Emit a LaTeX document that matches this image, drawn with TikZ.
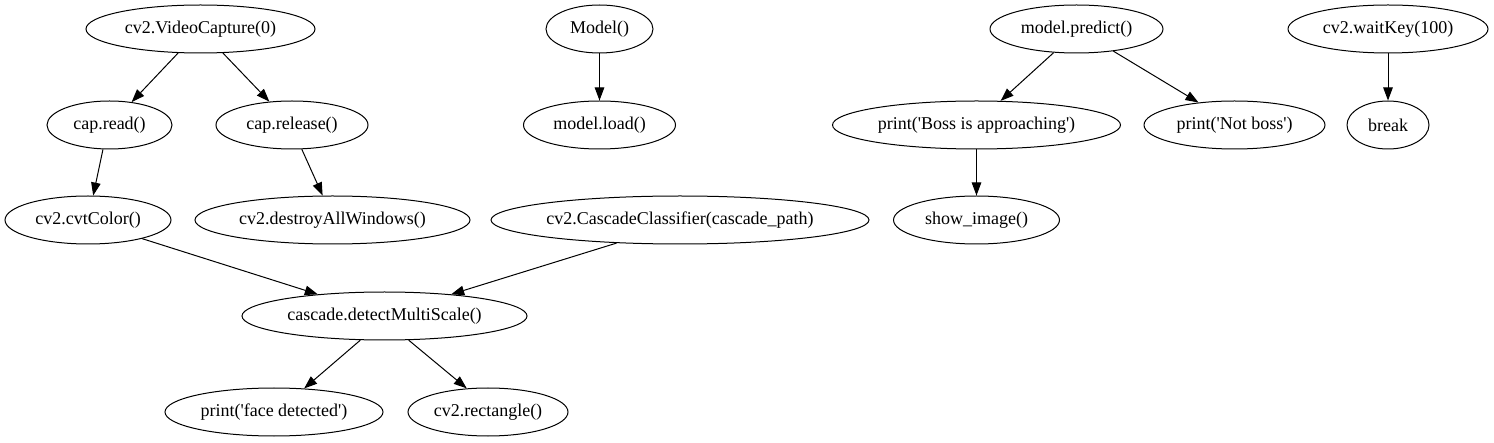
\documentclass[tikz,border=0pt]{standalone}
\usepackage{fontspec}
\setmainfont{Liberation Serif}
\usetikzlibrary{shapes.geometric,arrows.meta}
\newcommand{\sq}{\textquotesingle}
\newcommand{\lbl}[1]{\makebox[0pt]{#1}}
\begin{document}
\begin{tikzpicture}[x=1pt,y=-1pt,
  nd/.style={draw,ellipse,line width=1pt,inner sep=0pt,minimum height=48pt,font=\fontsize{18}{20}\selectfont},
  ar/.style={line width=1pt,-{Triangle[length=13pt,width=9.5pt]}}]
\useasboundingbox (0,0) rectangle (1494,443);
\node[nd,minimum width=229pt] (vc) at (200.5,29) {\lbl{cv2.VideoCapture(0)}};
\node[nd,minimum width=107pt] (model) at (599.5,29) {\lbl{Model()}};
\node[nd,minimum width=173pt] (pred) at (1076.5,29) {\lbl{model.predict()}};
\node[nd,minimum width=200pt] (wait) at (1388,29) {\lbl{cv2.waitKey(100)}};
\node[nd,minimum width=125pt] (read) at (109.5,125) {\lbl{cap.read()}};
\node[nd,minimum width=152pt] (rel) at (292,125) {\lbl{cap.release()}};
\node[nd,minimum width=152pt] (load) at (599.5,125) {\lbl{model.load()}};
\node[nd,minimum width=288pt] (boss) at (976.5,125) {\lbl{print(\sq Boss is approaching\sq)}};
\node[nd,minimum width=181pt] (notb) at (1234.5,125) {\lbl{print(\sq Not boss\sq)}};
\node[nd,minimum width=82pt] (brk) at (1388,125) {\lbl{break}};
\node[nd,minimum width=166pt] (cvt) at (88,220) {\lbl{cv2.cvtColor()}};
\node[nd,minimum width=275pt] (dest) at (332.5,220) {\lbl{cv2.destroyAllWindows()}};
\node[nd,minimum width=378pt] (casc) at (680,220) {\lbl{cv2.CascadeClassifier(cascade\_path)}};
\node[nd,minimum width=166pt] (show) at (976.5,220) {\lbl{show\_image()}};
\node[nd,minimum width=285pt] (dms) at (384.5,316) {\lbl{cascade.detectMultiScale()}};
\node[nd,minimum width=218pt] (face) at (274,412) {\lbl{print(\sq face detected\sq)}};
\node[nd,minimum width=160pt] (rect) at (488,412) {\lbl{cv2.rectangle()}};
\draw[ar] (vc.-133) -- (read.46);
\draw[ar] (vc.-47) -- (rel.134);
\draw[ar] (read.-105) -- (cvt.78);
\draw[ar] (rel.-68) -- (dest.112);
\draw[ar] (cvt.-19) -- (dms.162);
\draw[ar] (casc.-160) -- (dms.18);
\draw[ar] (dms.-135) -- (face.38);
\draw[ar] (dms.-45) -- (rect.132);
\draw[ar] (model.-90) -- (load.90);
\draw[ar] (pred.-134) -- (boss.45);
\draw[ar] (pred.-31) -- (notb.148);
\draw[ar] (boss.-90) -- (show.90);
\draw[ar] (wait.-90) -- (brk.90);
\end{tikzpicture}
\end{document}
